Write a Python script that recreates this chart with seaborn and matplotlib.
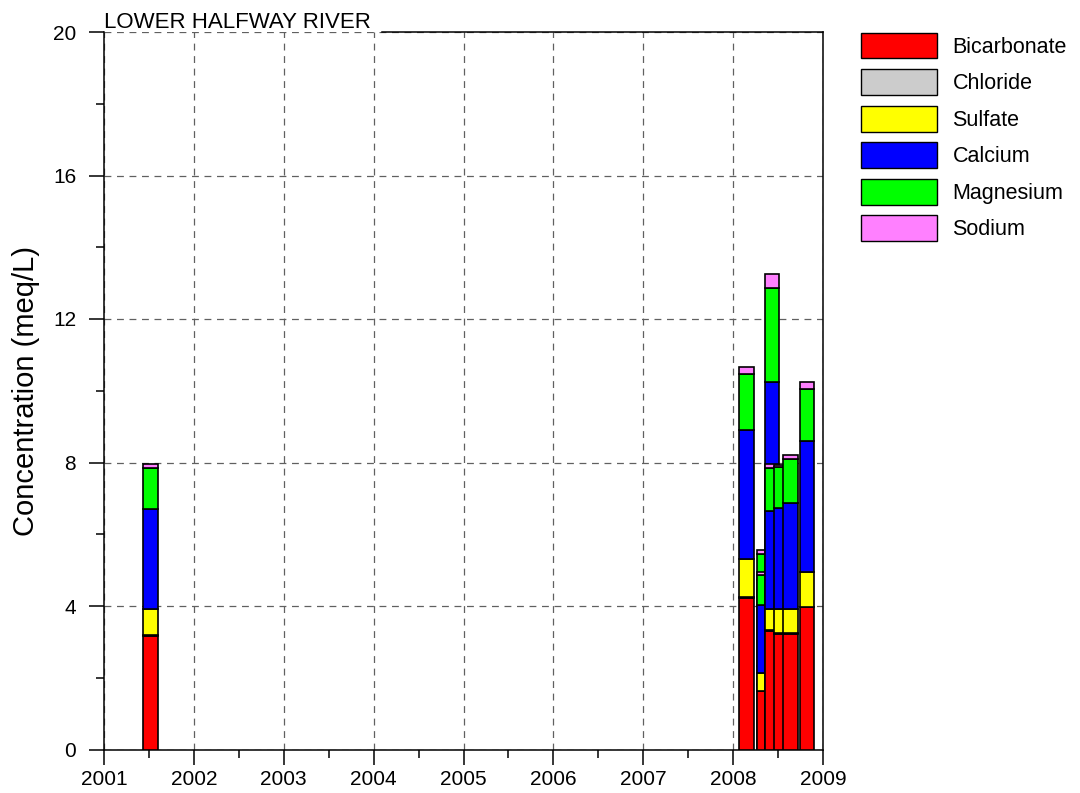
import numpy as np
import pandas as pd
import matplotlib
matplotlib.use("Agg")
import matplotlib.pyplot as plt
import seaborn as sns
from matplotlib.patches import Patch
from matplotlib.ticker import MultipleLocator

# ---- data (meq/L), one entry per sample, drawn in this order ----
sample_dates = ["2001-07-09", "2008-02-24", "2008-05-05", "2008-05-05",
                "2008-06-08", "2008-06-08", "2008-07-13", "2008-08-22",
                "2008-10-29"]
bicarbonate = [3.17, 4.22, 1.80, 1.62, 3.30, 3.31, 3.22, 3.22, 3.96]
chloride    = [0.03, 0.03, 0.02, 0.02, 0.03, 0.02, 0.02, 0.02, 0.02]
sulfate     = [0.72, 1.06, 0.50, 0.48, 0.62, 0.60, 0.69, 0.69, 0.97]
calcium     = [2.77, 3.59, 2.40, 1.91, 6.28, 2.72, 2.79, 2.94, 3.64]
magnesium   = [1.15, 1.58, 0.73, 0.83, 2.63, 1.21, 1.16, 1.23, 1.47]
sodium      = [0.11, 0.17, 0.12, 0.08, 0.39, 0.09, 0.05, 0.12, 0.19]

ion_names = ["Bicarbonate", "Chloride", "Sulfate", "Calcium", "Magnesium", "Sodium"]
ion_colors = ["#FF0000", "#CCCCCC", "#FFFF00", "#0000FF", "#00FF00", "#FF80FF"]
x_ticks = [2001, 2002, 2003, 2004, 2005, 2006, 2007, 2008, 2009]
y_ticks = [0, 4, 8, 12, 16, 20]
title_text = "LOWER HALFWAY RIVER"
y_label = "Concentration (meq/L)"

# ---- style ----
sns.set_theme(style="white")
plt.rcParams["font.family"] = ["Liberation Sans", "DejaVu Sans"]
plt.rcParams["text.color"] = "black"
plt.rcParams["axes.labelcolor"] = "black"
plt.rcParams["xtick.color"] = "black"
plt.rcParams["ytick.color"] = "black"

d = pd.to_datetime(sample_dates)
days_in_year = np.where(d.is_leap_year, 366.0, 365.0)
x_years = d.year + (d.dayofyear - 1) / days_in_year

ions = [bicarbonate, chloride, sulfate, calcium, magnesium, sodium]

fig = plt.figure(figsize=(10.8, 7.93), dpi=100)
W, H = 1080.0, 793.0
ax = fig.add_axes([104 / W, (H - 749.5) / H, 719 / W, 717.5 / H])

bar_width = 0.16
for i, xv in enumerate(x_years):
    bottom = 0.0
    for vals, col in zip(ions, ion_colors):
        ax.bar(xv, vals[i], width=bar_width, bottom=bottom, color=col,
               edgecolor="black", linewidth=1.2, align="center", zorder=3)
        bottom += vals[i]

ax.set_xlim(x_ticks[0], x_ticks[-1])
ax.set_ylim(y_ticks[0], y_ticks[-1])
ax.set_xticks(x_ticks)
ax.set_yticks(y_ticks)
ax.xaxis.set_minor_locator(MultipleLocator(0.5))
ax.yaxis.set_minor_locator(MultipleLocator(2))

ax.grid(True, which="major", color="#606060", linestyle=(0, (5.5, 4.5)),
        linewidth=0.9, zorder=1)
ax.set_axisbelow(True)

ax.tick_params(which="both", direction="out", bottom=True, left=True,
               top=False, right=False, colors="black")
ax.tick_params(which="major", length=11, width=1.1, labelsize=15)
ax.tick_params(which="minor", length=6, width=1.1)
ax.tick_params(axis="x", which="major", pad=4)
ax.tick_params(axis="y", which="major", pad=9)

for s in ax.spines.values():
    s.set_color("black")
    s.set_linewidth(1.1)
    s.set_visible(True)
ax.spines["top"].set_bounds(2004.09, 2009)

ax.set_ylabel(y_label, fontsize=21, color="black")
ax.yaxis.set_label_coords(-0.089, 0.5)

ax.annotate(title_text, xy=(0, 1), xycoords="axes fraction",
            xytext=(0, 2.7), textcoords="offset points",
            ha="left", va="baseline", fontsize=16, color="black")

handles = [Patch(facecolor=c, edgecolor="black", linewidth=1.0) for c in ion_colors]
fig.legend(handles, ion_names, loc="upper left",
           bbox_to_anchor=(861 / W, 1 - 32.5 / H), frameon=False,
           fontsize=15.5, handlelength=3.55, handleheight=1.48,
           handletextpad=0.7, labelspacing=0.49, borderpad=0,
           borderaxespad=0, labelcolor="black")

fig.savefig("out.png", dpi=100)
